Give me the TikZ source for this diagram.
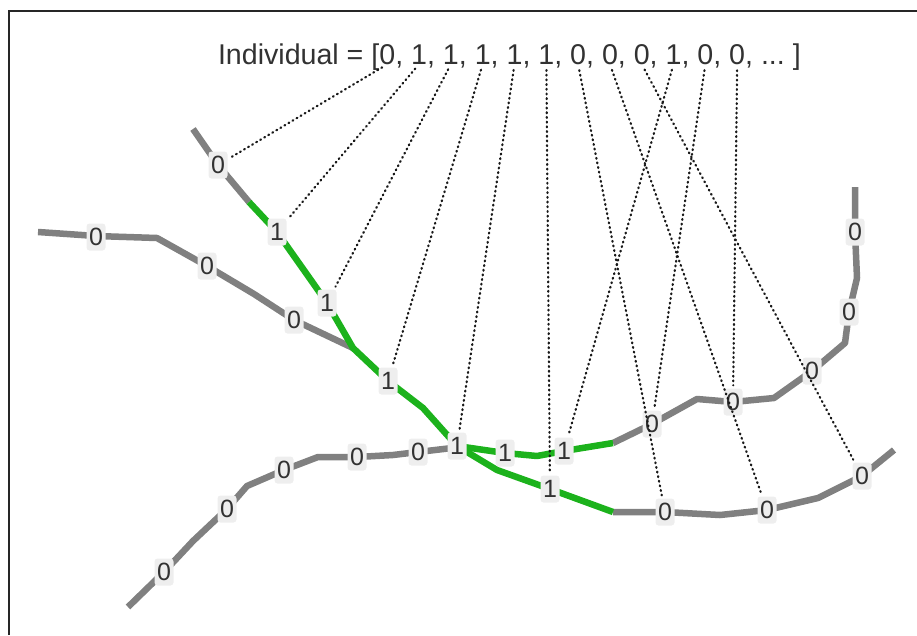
\documentclass[tikz,border=0pt]{standalone}
\usepackage{fontspec}
\setmainfont{Liberation Sans}
\definecolor{roadgray}{RGB}{128,128,128}
\definecolor{roadgreen}{RGB}{28,178,28}
\definecolor{inkgray}{RGB}{50,50,50}

\begin{document}
\begin{tikzpicture}[
  x=1pt,y=-1pt,
  road/.style={line width=6.5pt,roadgray,line join=round},
  route/.style={road,roadgreen},
  seg/.style={fill=gray!13,rounded corners=3pt,inner sep=1pt,minimum width=19pt,minimum height=27pt,text=inkgray,font=\fontsize{25}{25}\selectfont},
  gene/.style={inner sep=0pt,outer sep=0pt,anchor=base west,text=inkgray,font=\fontsize{28.6}{30}\selectfont},
  link/.style={line width=2.2pt,dash pattern=on 0.9pt off 3.8pt,line cap=round,black!90,shorten <=6pt,shorten >=3pt}
]
  \useasboundingbox (0,0) rectangle (917,635);
  \draw[line width=2pt,black!85] (9,635) -- (9,11) -- (917,11);

  % roads
  \draw[road] (193,129) -- (218,165) -- (249,202);
  \draw[road] (38,232) -- (96,236) -- (157,238) -- (207,266) -- (254,294) -- (294,320) -- (353,348);
  \draw[road] (128,607) -- (164,572) -- (193,541) -- (227,509) -- (247,486) -- (284,470) -- (318,457)
    -- (357,457) -- (393,455) -- (418,452) -- (452,448);
  \draw[road] (613,443) -- (652,424) -- (697,399) -- (733,402) -- (774,398) -- (812,371) -- (845,343)
    -- (849,312) -- (857,278) -- (855,232) -- (855,187);
  \draw[road] (613,512) -- (665,512) -- (720,515) -- (767,510) -- (818,498) -- (862,476) -- (894,450);
  \draw[route] (249,202) -- (277,232) -- (313,283) -- (327,303) -- (353,348) -- (388,381) -- (423,408) -- (457,446);
  \draw[route] (457,446) -- (505,453) -- (537,456) -- (564,451) -- (613,443);
  \draw[route] (457,446) -- (497,470) -- (550,489) -- (613,512);

  % segment labels
  \node[seg] (a1) at (218,165) {0};
  \node[seg] (a2) at (277,232) {1};
  \node[seg] (a3) at (327,303) {1};
  \node[seg] (a4) at (388,381) {1};
  \node[seg] (j) at (457,446) {1};
  \node[seg] (b1) at (96,237) {0};
  \node[seg] (b2) at (207,266) {0};
  \node[seg] (b3) at (294,320) {0};
  \node[seg] (c1) at (164,572) {0};
  \node[seg] (c2) at (227,509) {0};
  \node[seg] (c3) at (284,470) {0};
  \node[seg] (c4) at (357,457) {0};
  \node[seg] (c5) at (418,452) {0};
  \node[seg] (d1) at (505,453) {1};
  \node[seg] (d2) at (564,451) {1};
  \node[seg] (d3) at (652,424) {0};
  \node[seg] (d4) at (733,402) {0};
  \node[seg] (d5) at (812,371) {0};
  \node[seg] (d6) at (849,312) {0};
  \node[seg] (d7) at (855,232) {0};
  \node[seg] (e1) at (550,489) {1};
  \node[seg] (e2) at (665,512) {0};
  \node[seg] (e3) at (767,510) {0};
  \node[seg] (e4) at (862,476) {0};

  % the individual
  \node[gene] (sep0) at (218,64) {Individual = [};
  \foreach \b [count=\i, remember=\i as \j (initially 0)] in {0,1,1,1,1,1,0,0,0,1,0,0} {
    \node[gene] (gene\i) at (sep\j.base east) {\b};
    \node[gene] (sep\i) at (gene\i.base east) {,\kern0.278em};
  }
  \node[gene] (tail) at (sep12.base east) {...\ ]};

  \draw[link] (gene1.south) -- (a1);
  \draw[link] (gene2.south) -- (a2);
  \draw[link] (gene3.south) -- (a3);
  \draw[link] (gene4.south) -- (a4);
  \draw[link] (gene5.south) -- (j);
  \draw[link] (gene6.south) -- (e1);
  \draw[link] (gene7.south) -- (e2);
  \draw[link] (gene8.south) -- (e3);
  \draw[link] (gene9.south) -- (e4);
  \draw[link] (gene10.south) -- (d2);
  \draw[link] (gene11.south) -- (d3);
  \draw[link] (gene12.south) -- (d4);
\end{tikzpicture}
\end{document}
